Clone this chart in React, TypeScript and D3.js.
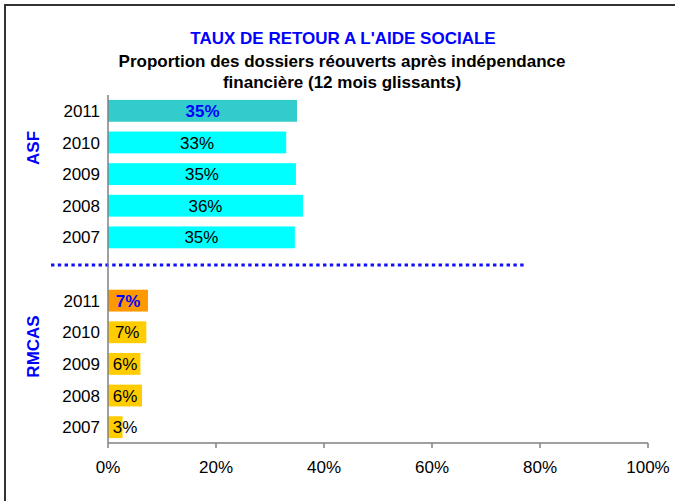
import React from "react";
import * as d3 from "d3";

const groups = ["ASF", "RMCAS"];
const years = ["2011", "2010", "2009", "2008", "2007"];
const asfValues = [35, 33, 34.8, 36.1, 34.6];
const rmcasValues = [7.4, 7.1, 6.0, 6.3, 2.7];
const xTicks = [0, 20, 40, 60, 80, 100];
const titleLines = [
  "TAUX DE RETOUR A L'AIDE SOCIALE",
  "Proportion des dossiers réouverts après indépendance",
  "financière (12 mois glissants)",
];

const W = 675;
const H = 501;
const FONT = "'Liberation Sans', Arial, sans-serif";
const FS = 17;

type Row = { key: string; group: string; year: string; value: number; highlight: boolean };

const rows: Row[] = [
  ...years.map((y, i) => ({ key: `ASF-${y}`, group: "ASF", year: y, value: asfValues[i], highlight: i === 0 })),
  ...years.map((y, i) => ({ key: `RMCAS-${y}`, group: "RMCAS", year: y, value: rmcasValues[i], highlight: i === 0 })),
];
const domainKeys = [...rows.slice(0, 5).map((r) => r.key), "gap", ...rows.slice(5).map((r) => r.key)];

const colors: Record<string, { normal: string; hi: string }> = {
  ASF: { normal: "#00FFFF", hi: "#33CCCC" },
  RMCAS: { normal: "#FFCC00", hi: "#FF9900" },
};

export default function App() {
  const x = d3.scaleLinear().domain([0, 100]).range([108, 648]);
  const y = d3.scaleBand<string>().domain(domainKeys).range([95, 443]).paddingInner(0.31).paddingOuter(0.155);
  const bw = y.bandwidth();
  const gapY = (y("gap") as number) + bw * 0.32;
  const asfKeys = rows.filter((r) => r.group === "ASF").map((r) => r.key);
  const rmKeys = rows.filter((r) => r.group === "RMCAS").map((r) => r.key);
  const groupLabelY: Record<string, number> = {
    ASF: (y(asfKeys[1]) as number) + bw * 0.75,
    RMCAS: (y(rmKeys[1]) as number) + bw * 1.15,
  };

  return (
    <svg width={W} height={H} style={{ position: "absolute", left: 0, top: 0, display: "block" }} fontFamily={FONT}>
      <rect x={0} y={0} width={W} height={H} fill="#fff" />
      {/* outer frame */}
      <line x1={5} y1={4} x2={5} y2={H} stroke="#333" strokeWidth={2} />
      <line x1={4} y1={5} x2={W} y2={5} stroke="#333" strokeWidth={2} />

      {/* titles */}
      <text x={343} y={44} textAnchor="middle" fontWeight="bold" fontSize={FS} fill="#0000FF">
        {titleLines[0]}
      </text>
      <text x={342} y={67} textAnchor="middle" fontWeight="bold" fontSize={FS} fill="#000">
        {titleLines[1]}
      </text>
      <text x={342} y={88} textAnchor="middle" fontWeight="bold" fontSize={FS} fill="#000">
        {titleLines[2]}
      </text>

      {/* bars */}
      {rows.map((r) => {
        const c = colors[r.group];
        return (
          <rect
            key={r.key}
            x={x(0)}
            y={y(r.key) as number}
            width={x(r.value) - x(0)}
            height={bw}
            fill={r.highlight ? c.hi : c.normal}
          />
        );
      })}

      {/* value labels */}
      {rows.map((r) => {
        const cx = Math.max((x(0) + x(r.value)) / 2, x(0) + 17);
        return (
          <text
            key={"l" + r.key}
            x={cx}
            y={(y(r.key) as number) + bw / 2}
            dy="0.36em"
            textAnchor="middle"
            fontSize={FS}
            fontWeight={r.highlight ? "bold" : "normal"}
            fill={r.highlight ? "#0000FF" : "#000"}
          >
            {`${Math.round(r.value)}%`}
          </text>
        );
      })}

      {/* category labels */}
      {rows.map((r) => (
        <text
          key={"c" + r.key}
          x={x(0) - 8}
          y={(y(r.key) as number) + bw / 2}
          dy="0.36em"
          textAnchor="end"
          fontSize={FS}
          fill="#000"
        >
          {r.year}
        </text>
      ))}

      {/* group labels */}
      {groups.map((g) => (
        <text
          key={"g" + g}
          transform={`translate(39,${groupLabelY[g]}) rotate(-90)`}
          textAnchor="middle"
          fontSize={17}
          fontWeight="bold"
          fill="#0000FF"
        >
          {g}
        </text>
      ))}

      {/* separator */}
      <line x1={51} x2={526} y1={gapY} y2={gapY} stroke="#1010FF" strokeWidth={3} strokeDasharray="3.4 3.4" />

      {/* axes */}
      <line x1={x(0)} x2={x(0)} y1={95} y2={443} stroke="#808080" strokeWidth={1.5} />
      <line x1={x(0)} x2={x(100)} y1={443} y2={443} stroke="#808080" strokeWidth={1.5} />
      {xTicks.map((t) => (
        <g key={"t" + t}>
          <line x1={x(t)} x2={x(t)} y1={443} y2={448} stroke="#808080" strokeWidth={1.5} />
          <text x={x(t)} y={473} textAnchor="middle" fontSize={FS} fill="#000">
            {`${t}%`}
          </text>
        </g>
      ))}
    </svg>
  );
}
